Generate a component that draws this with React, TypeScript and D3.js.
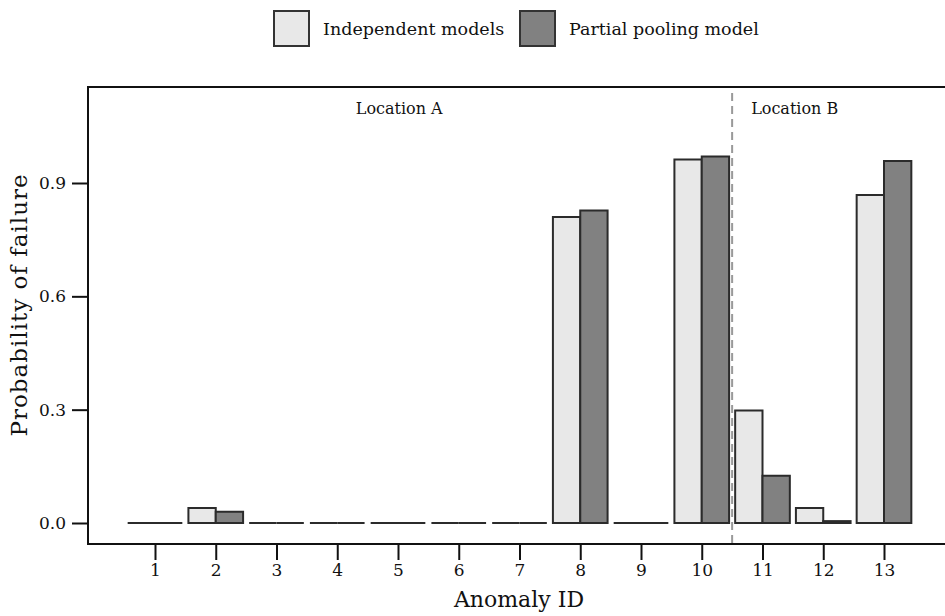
import React, { useEffect, useRef } from 'react';
import * as d3 from 'd3';

const anomalyIds = [1, 2, 3, 4, 5, 6, 7, 8, 9, 10, 11, 12, 13];
const independent = [0, 0.04, 0, 0, 0, 0, 0, 0.81, 0, 0.962, 0.298, 0.04, 0.868];
const pooling = [0, 0.03, 0, 0, 0, 0, 0, 0.827, 0, 0.97, 0.125, 0.005, 0.958];
const yTicks = [0, 0.3, 0.6, 0.9];
const seriesNames = ['Independent models', 'Partial pooling model'];
const seriesColors = ['#e8e8e8', '#818181'];
const locations = [{ name: 'Location A', at: 5.02 }, { name: 'Location B', at: 11.53 }];
const divider = 10.5;

const FONT = '"DejaVu Serif", serif';

export default function App() {
    const ref = useRef<SVGSVGElement>(null);

    useEffect(() => {
        const svg = d3.select(ref.current);
        svg.selectAll('*').remove();

        const frame = { left: 88, top: 87, right: 948, bottom: 544 };

        const x = d3.scaleLinear().domain([1, 13]).range([155, 884]);
        const y = d3.scaleLinear().domain([0, 0.9]).range([523, 183]);
        const step = x(2) - x(1);
        const bw = step * 0.45;

        // plot frame
        svg.append('rect')
            .attr('x', frame.left)
            .attr('y', frame.top)
            .attr('width', frame.right - frame.left)
            .attr('height', frame.bottom - frame.top)
            .attr('fill', 'none')
            .attr('stroke', '#111')
            .attr('stroke-width', 2);

        // bars (paths so that zero-height bars still show as a flat line)
        const barPath = (x0: number, y0: number) =>
            `M${x0},${y(0)}V${y0}H${x0 + bw}V${y(0)}Z`;
        const series = [independent, pooling];
        series.forEach((vals, s) => {
            svg.append('g')
                .selectAll('path')
                .data(anomalyIds)
                .join('path')
                .attr('d', (d, i) => barPath(x(d) - bw + s * bw, y(vals[i])))
                .attr('fill', seriesColors[s])
                .attr('stroke', '#2b2b2b')
                .attr('stroke-width', 2)
                .attr('stroke-linejoin', 'miter');
        });

        // divider
        svg.append('line')
            .attr('x1', x(divider))
            .attr('x2', x(divider))
            .attr('y1', frame.top + 6)
            .attr('y2', frame.bottom + 4)
            .attr('stroke', '#999')
            .attr('stroke-width', 2)
            .attr('stroke-dasharray', '8,5');

        svg.append('g')
            .selectAll('text')
            .data(locations)
            .join('text')
            .attr('x', (d) => x(d.at))
            .attr('y', 114)
            .attr('text-anchor', 'middle')
            .attr('font-family', FONT)
            .attr('font-size', 16)
            .attr('fill', '#111')
            .text((d) => d.name);

        // y axis
        const yAxis = svg.append('g')
            .attr('transform', `translate(${frame.left},0)`)
            .call(d3.axisLeft(y).tickValues(yTicks).tickFormat(d3.format('.1f')).tickSize(16).tickPadding(6));
        yAxis.select('.domain').remove();
        yAxis.selectAll('line').attr('stroke', '#111').attr('stroke-width', 2);
        yAxis.selectAll('text').attr('font-family', FONT).attr('font-size', 17).attr('fill', '#111');

        // x axis
        const xAxis = svg.append('g')
            .attr('transform', `translate(0,${frame.bottom})`)
            .call(d3.axisBottom(x).tickValues(anomalyIds).tickFormat(d3.format('d')).tickSize(16).tickPadding(4));
        xAxis.select('.domain').remove();
        xAxis.selectAll('line').attr('stroke', '#111').attr('stroke-width', 2);
        xAxis.selectAll('text').attr('font-family', FONT).attr('font-size', 17).attr('fill', '#111');

        svg.append('text')
            .attr('x', 519)
            .attr('y', 607)
            .attr('text-anchor', 'middle')
            .attr('font-family', FONT)
            .attr('font-size', 22)
            .attr('fill', '#111')
            .text('Anomaly ID');

        svg.append('text')
            .attr('transform', `translate(27,305) rotate(-90)`)
            .attr('text-anchor', 'middle')
            .attr('font-family', FONT)
            .attr('font-size', 23)
            .attr('letter-spacing', 1)
            .attr('fill', '#111')
            .text('Probability of failure');

        // legend
        const legendX = [274, 520];
        seriesNames.forEach((name, i) => {
            svg.append('rect')
                .attr('x', legendX[i])
                .attr('y', 11)
                .attr('width', 35)
                .attr('height', 35)
                .attr('fill', seriesColors[i])
                .attr('stroke', '#333')
                .attr('stroke-width', 2);
            svg.append('text')
                .attr('x', legendX[i] + 49)
                .attr('y', 35)
                .attr('font-family', FONT)
                .attr('font-size', 17.5)
                .attr('fill', '#111')
                .text(name);
        });
    }, []);

    return (
        <svg ref={ref} width={945} height={616}
            style={{ position: 'absolute', left: 0, top: 0, background: '#fff' }} />
    );
}
